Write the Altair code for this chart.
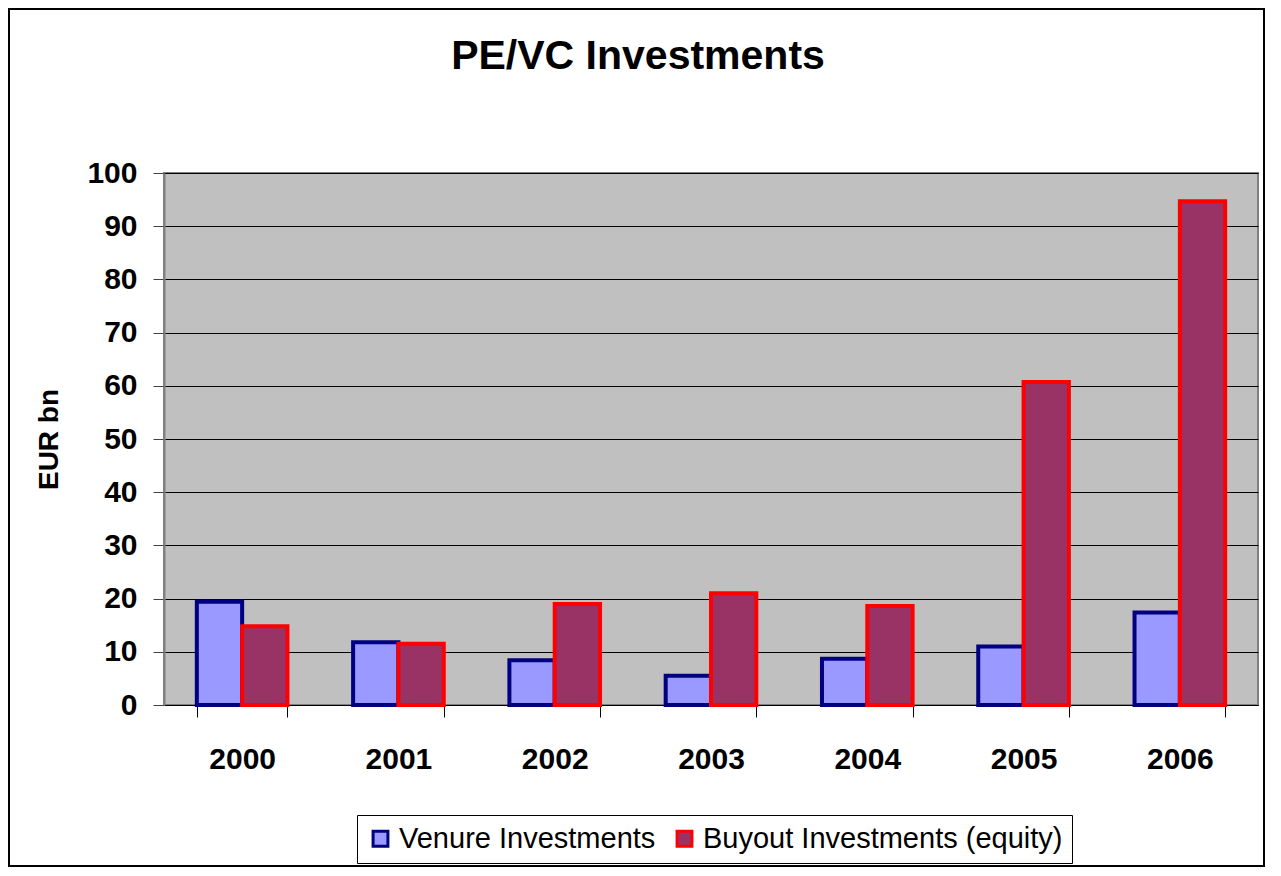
import altair as alt
import pandas as pd

years = ["2000", "2001", "2002", "2003", "2004", "2005", "2006"]
venture = [19.4, 11.8, 8.4, 5.5, 8.7, 11.0, 17.4]
buyout = [14.8, 11.5, 19.0, 21.0, 18.6, 60.7, 94.7]
series = ["Venure Investments", "Buyout Investments (equity)"]
fills = ["#9999FF", "#993366"]
strokes = ["#000080", "#FF0000"]
y_ticks = [0, 10, 20, 30, 40, 50, 60, 70, 80, 90, 100]

rows = []
for y, v in zip(years, venture):
    rows.append({"year": y, "series": series[0], "value": v})
for y, v in zip(years, buyout):
    rows.append({"year": y, "series": series[1], "value": v})
df = pd.DataFrame(rows)

FONT = "Liberation Sans"

bars = alt.Chart(df).mark_bar(strokeWidth=4, strokeJoin="miter").encode(
    x=alt.X("year:N", sort=years, title=None,
            scale=alt.Scale(paddingInner=0.42, paddingOuter=0.21),
            axis=alt.Axis(labelAngle=0, labelFont=FONT, labelFontSize=30, labelFontWeight="bold",
                          labelColor="black", tickBand="extent", tickSize=12, tickColor="black",
                          domainColor="black", labelPadding=27, grid=False)),
    xOffset=alt.XOffset("series:N", sort=series),
    y=alt.Y("value:Q", title="EUR bn",
            scale=alt.Scale(domain=[0, 100], nice=False),
            axis=alt.Axis(values=y_ticks, labelFont=FONT, labelFontSize=30, labelFontWeight="bold",
                          labelColor="black", tickSize=11, tickColor="#404040", domainColor="#808080",
                          domainWidth=2, labelPadding=16, gridColor="black", gridWidth=1,
                          titleFont=FONT, titleFontSize=28, titleFontWeight="bold", titleColor="black",
                          titleAngle=-90, titleX=-115, titleY=266, titleBaseline="middle",
                          titleAlign="center")),
    fill=alt.Fill("series:N", sort=series, scale=alt.Scale(domain=series, range=fills),
                  legend=alt.Legend(title=None, orient="none", legendX=193, legendY=642,
                                    direction="horizontal")),
    stroke=alt.Stroke("series:N", sort=series, scale=alt.Scale(domain=series, range=strokes),
                      legend=alt.Legend(title=None, orient="none", legendX=193, legendY=642,
                                        direction="horizontal")),
)

border = alt.Chart(alt.Data(values=[{"k": 1}])).mark_rect(
    fillOpacity=0, stroke="black", strokeWidth=2
).encode(
    x=alt.value(-155), x2=alt.value(1100), y=alt.value(-164), y2=alt.value(693)
)

chart = alt.layer(border, bars).properties(
    width=1094, height=532,
    title=alt.Title("PE/VC Investments", font=FONT, fontSize=41, fontWeight="bold",
                    color="black", anchor="middle", frame="group", dx=-73, offset=-70),
    autosize=alt.AutoSizeParams(type="none"),
    padding={"left": 156, "top": 165, "right": 15, "bottom": 162},
    background="white",
).configure_view(
    fill="#C0C0C0", stroke="#808080", strokeWidth=2
).configure_legend(
    strokeColor="black", padding=9, labelFont=FONT, labelFontSize=29, labelColor="black",
    symbolType="square", symbolSize=220, symbolStrokeWidth=3, columnPadding=14,
    labelLimit=600, fillColor="white", cornerRadius=0
)

chart.save("out.html", embed_options={"renderer": "svg", "actions": False})
